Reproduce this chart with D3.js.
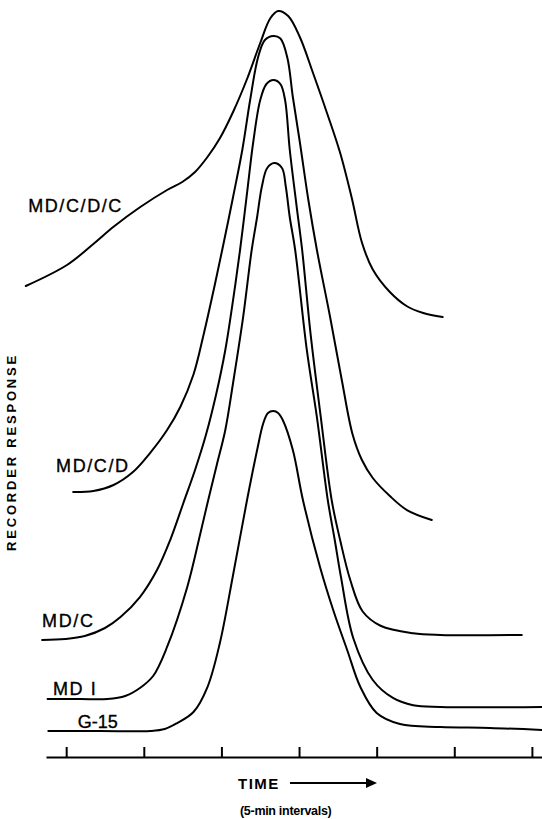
<!DOCTYPE html>
<html>
<head>
<meta charset="utf-8">
<script src="https://cdn.jsdelivr.net/npm/d3@7"></script>
<style>
  body { margin: 0; background: #fff; }
  text { font-family: "Liberation Sans", Arial, Helvetica, sans-serif; fill: #000; }
</style>
</head>
<body>
<div id="chart"></div>
<script>
// Chromatogram traces: [time (5-min intervals), recorder response]
const mdcdc = [[-0.52,62.8],[0.01,65.6],[0.35,68.4],[0.61,70.7],[0.95,73.3],[1.30,75.6],[1.50,76.7],[1.66,78.0],
  [1.82,80.0],[1.98,82.5],[2.15,86.0],[2.33,90.4],[2.50,95.2],[2.63,98.5],[2.73,99.47],[2.86,98.8],[3.01,96.0],
  [3.18,91.2],[3.36,85.87],[3.53,80.53],[3.68,74.5],[3.81,68.6],[3.95,65.0],[4.17,62.0],[4.39,60.1],[4.60,59.2],[4.85,58.67]];

const mdcd = [[0.09,35.33],[0.35,35.47],[0.61,36.27],[0.86,38.0],[1.08,40.53],[1.30,43.6],[1.47,46.67],[1.64,51.0],
  [1.77,56.3],[1.89,61.8],[2.01,67.6],[2.15,74.67],[2.27,81.0],[2.37,87.6],[2.47,93.2],[2.56,95.6],[2.67,96.13],
  [2.76,95.8],[2.85,93.2],[2.92,88.0],[3.01,82.0],[3.12,74.27],[3.23,67.6],[3.40,58.67],[3.55,50.3],[3.69,43.0],
  [3.81,39.6],[3.95,37.2],[4.17,34.8],[4.39,32.93],[4.71,31.6]];

const mdc = [[-0.31,15.6],[-0.01,15.73],[0.24,16.13],[0.50,17.2],[0.70,18.67],[0.95,21.33],[1.17,24.93],[1.34,28.93],
  [1.51,33.87],[1.66,38.27],[1.80,42.93],[1.93,48.27],[2.05,54.27],[2.15,60.93],[2.24,67.6],[2.33,75.2],[2.41,82.0],
  [2.50,87.6],[2.58,89.73],[2.67,90.27],[2.76,89.73],[2.82,87.6],[2.88,81.0],[2.97,73.33],[3.04,67.6],[3.15,56.27],
  [3.28,45.33],[3.42,34.27],[3.53,28.9],[3.66,23.6],[3.82,19.4],[4.05,17.5],[4.47,16.5],[4.82,16.27],[5.87,16.27]];

const md1 = [[-0.24,7.73],[0.18,7.73],[0.53,7.73],[0.76,8.13],[0.95,9.2],[1.12,10.8],[1.30,14.67],[1.56,22.67],
  [1.73,29.87],[1.83,34.27],[1.94,38.93],[2.05,43.6],[2.15,49.87],[2.28,58.67],[2.39,67.6],[2.46,72.0],[2.52,76.0],
  [2.59,78.53],[2.68,79.2],[2.78,78.53],[2.83,76.0],[2.88,72.0],[2.95,67.6],[3.10,54.27],[3.23,45.33],[3.37,34.27],
  [3.46,28.93],[3.54,24.0],[3.70,15.8],[3.95,10.27],[4.21,7.87],[4.47,6.9],[4.82,6.67],[6.13,6.67]];

const g15 = [[-0.23,3.47],[0.44,3.47],[1.08,3.47],[1.27,3.73],[1.43,4.53],[1.64,6.0],[1.82,9.33],[1.98,15.2],
  [2.15,24.27],[2.33,34.27],[2.46,40.93],[2.54,44.53],[2.60,45.87],[2.67,46.13],[2.73,45.87],[2.79,44.93],[2.92,40.93],
  [3.05,34.27],[3.27,25.33],[3.44,19.6],[3.62,14.27],[3.79,9.33],[4.00,5.87],[4.30,4.4],[4.82,4.0],[5.46,3.87],[6.13,3.6]];

const seriesNames = ["MD/C/D/C", "MD/C/D", "MD/C", "MD I", "G-15"];
const seriesData = [mdcdc, mdcd, mdc, md1, g15];
// where each trace label sits (time, response of baseline)
const labelPos = [[-0.49,72.67],[-0.13,38.0],[-0.31,17.33],[-0.17,8.27],[0.15,3.87]];

const tickValues = [0, 1, 2, 3, 4, 5, 6];

const width = 542, height = 819;

const svg = d3.select("#chart").append("svg")
    .attr("width", width)
    .attr("height", height);

// Scales
const x = d3.scaleLinear().domain([-0.26, 6.13]).range([46, 542]);
const y = d3.scaleLinear().domain([0, 100]).range([757, 7]);

// Time axis with upward ticks, no numbers
const xAxis = svg.append("g")
    .attr("transform", `translate(0,${y(0)})`)
    .call(d3.axisBottom(x).tickValues(tickValues).tickSize(-10).tickSizeOuter(0).tickFormat(""));
xAxis.select(".domain").attr("stroke", "#000").attr("stroke-width", 2);
xAxis.selectAll(".tick line").attr("stroke", "#000").attr("stroke-width", 2);

// Traces
const line = d3.line()
    .x(d => x(d[0]))
    .y(d => y(d[1]))
    .curve(d3.curveCatmullRom.alpha(0.5));

svg.selectAll(".trace")
    .data(seriesData)
    .enter().append("path")
    .attr("class", "trace")
    .attr("fill", "none")
    .attr("stroke", "#000")
    .attr("stroke-width", 2)
    .attr("stroke-linecap", "round")
    .attr("stroke-linejoin", "round")
    .attr("d", line);

// Trace labels
svg.selectAll(".trace-label")
    .data(seriesNames)
    .enter().append("text")
    .attr("class", "trace-label")
    .attr("x", (d, i) => x(labelPos[i][0]))
    .attr("y", (d, i) => y(labelPos[i][1]))
    .style("font-size", "18px")
    .style("stroke", "#000")
    .style("stroke-width", "0.35px")
    .style("letter-spacing", (d, i) => i === 4 ? "0px" : "1.6px")
    .text(d => d);

// Axis titles
svg.append("text")
    .attr("x", 238)
    .attr("y", 789)
    .style("font-size", "15px")
    .style("font-weight", "bold")
    .style("letter-spacing", "1.5px")
    .text("TIME");

svg.append("line")
    .attr("x1", 290).attr("x2", 368)
    .attr("y1", 783).attr("y2", 783)
    .attr("stroke", "#000")
    .attr("stroke-width", 2);
svg.append("path")
    .attr("d", "M366,778 L377,783 L366,788 Z")
    .attr("fill", "#000");

svg.append("text")
    .attr("x", 240)
    .attr("y", 815)
    .style("font-size", "12.5px")
    .style("font-weight", "bold")
    .style("letter-spacing", "-0.3px")
    .text("(5-min intervals)");

svg.append("text")
    .attr("text-anchor", "middle")
    .attr("transform", "translate(16,452) rotate(-90)")
    .style("font-size", "13px")
    .style("font-weight", "bold")
    .style("letter-spacing", "2.8px")
    .text("RECORDER RESPONSE");
</script>
</body>
</html>
